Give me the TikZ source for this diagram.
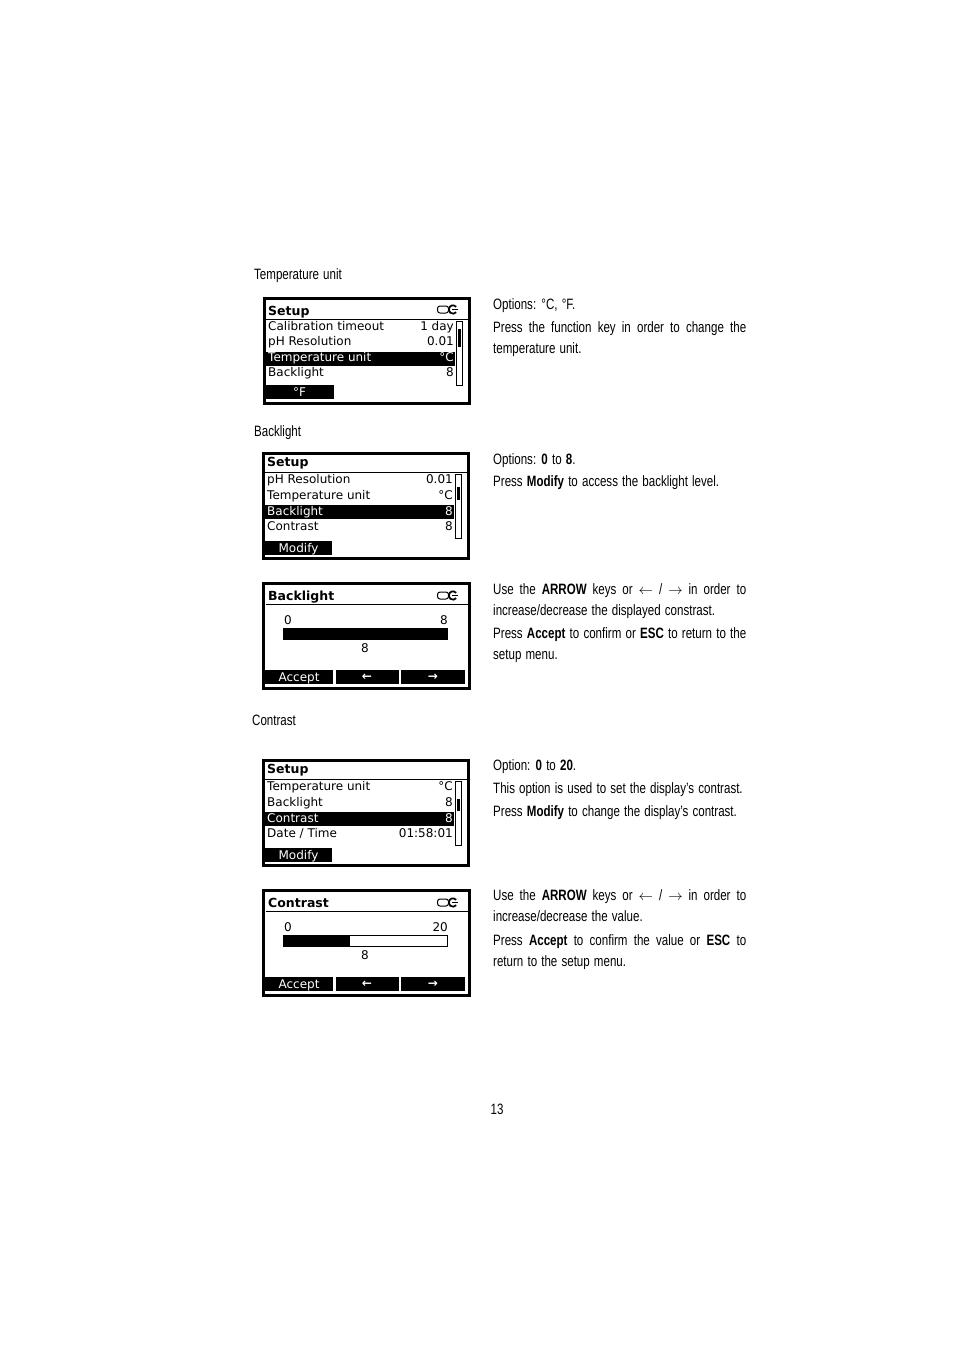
\documentclass[tikz,border=0pt]{standalone}
\usepackage{fontspec}
\setmainfont{Liberation Sans}[FakeStretch=0.77, WordSpace=1.3]
\newfontfamily\lcdfont{DejaVu Sans}
\hyphenpenalty=10000
\exhyphenpenalty=10000

\tikzset{
  every node/.style={inner sep=0pt},
  heading/.style={anchor=base west, font=\fontsize{15}{21}\selectfont},
  para/.style={anchor=base west, text width=253pt, align=justify, font=\fontsize{15}{21}\selectfont},
  lcdframe/.style={line width=2.8pt},
  lcdline/.style={line width=1pt},
  lcd/.style={font=\lcdfont\fontsize{12}{14}\selectfont},
  lcdtitle/.style={anchor=base west, font=\lcdfont\bfseries\fontsize{12.5}{14}\selectfont},
  lcdrow/.style={lcd, anchor=base west},
  lcdval/.style={lcd, anchor=base east},
  lcdkey/.style={lcd, anchor=base, text=white},
  lcdarrow/.style={lcdkey, font=\lcdfont\bfseries\fontsize{12}{14}\selectfont},
  wrench/.pic={
    \draw[line width=1pt, rounded corners=2.5pt] (-15.5,-3.5) rectangle (-4.5,3.5);
    \draw[line width=1.7pt] (40:4.2) arc (40:320:4.2);
    \draw[line width=1.7pt] (-1,0) -- (5,0);
  }
}

\begin{document}
\begin{tikzpicture}[x=1pt,y=-1pt]
\useasboundingbox (0,0) rectangle (954,1351);

% headings
\node[heading] (hTemp) at (254,279) {Temperature unit};
\node[heading] (hBack) at (254,436) {Backlight};
\node[heading] (hCont) at (252,725.5) {Contrast};

% screen: temperature unit
\draw[lcdframe] (264.4,298.4) rectangle (469.6,403.6);
\node[lcdtitle] (s1t) at (268,315) {Setup};
\pic at (453,309.5) {wrench};
\draw[lcdline] (266,319) -- (468,319);
\fill (265,351.5) rectangle (455,365.5);
\node[lcdrow] (s1r1) at (268,330.5) {Calibration timeout};
\node[lcdval] (s1v1) at (454,330.5) {1 day};
\node[lcdrow] (s1r2) at (268,345.8) {pH Resolution};
\node[lcdval] (s1v2) at (454,345.8) {0.01};
\node[lcdrow, text=white] (s1r3) at (268,361) {Temperature unit};
\node[lcdval, text=white] (s1v3) at (454,361) {°C};
\node[lcdrow] (s1r4) at (268,376.3) {Backlight};
\node[lcdval] (s1v4) at (454,376.3) {8};
\draw[line width=0.8pt] (456.5,321) rectangle (462.5,385);
\fill (458,329) rectangle (461,347);
\fill (265,385) rectangle (334,399);
\node[lcdkey] (s1k) at (299.5,396.5) {°F};

% screen: backlight setup
\draw[lcdframe] (263.4,453.4) rectangle (468.6,558.6);
\node[lcdtitle] (s2t) at (267,466.7) {Setup};
\draw[lcdline] (265,472.5) -- (467,472.5);
\fill (264.5,505) rectangle (454,519);
\node[lcdrow] (s2r1) at (267,483.3) {pH Resolution};
\node[lcdval] (s2v1) at (453,483.3) {0.01};
\node[lcdrow] (s2r2) at (267,499) {Temperature unit};
\node[lcdval] (s2v2) at (453,499) {°C};
\node[lcdrow, text=white] (s2r3) at (267,515) {Backlight};
\node[lcdval, text=white] (s2v3) at (453,515) {8};
\node[lcdrow] (s2r4) at (267,530) {Contrast};
\node[lcdval] (s2v4) at (453,530) {8};
\draw[line width=0.8pt] (455.5,474) rectangle (461.5,538);
\fill (457,487) rectangle (460,500);
\fill (265,541) rectangle (332,555);
\node[lcdkey] (s2k) at (298.5,552) {Modify};

% screen: backlight level
\draw[lcdframe] (263.4,583.4) rectangle (469.6,688.6);
\node[lcdtitle] (s3t) at (268,600) {Backlight};
\pic at (453,595.5) {wrench};
\draw[lcdline] (266,604.3) -- (468,604.3);
\node[lcdrow] (s3lo) at (284,624.3) {0};
\node[lcdval] (s3hi) at (448,624.3) {8};
\fill (283,628.3) rectangle (448,640);
\node[lcd, anchor=base] (s3v) at (365,652.3) {8};
\fill (265,669.5) rectangle (333,683.5);
\fill (335.5,669.5) rectangle (398.5,683.5);
\fill (401,669.5) rectangle (465,683.5);
\node[lcdkey] (s3k1) at (299,681) {Accept};
\node[lcdarrow] (s3k2) at (367,680) {←};
\node[lcdarrow] (s3k3) at (433,680) {→};

% screen: contrast setup
\draw[lcdframe] (263.4,760.4) rectangle (468.6,865.6);
\node[lcdtitle] (s4t) at (267,773.7) {Setup};
\draw[lcdline] (265,779.5) -- (467,779.5);
\fill (264.5,812) rectangle (454,826);
\node[lcdrow] (s4r1) at (267,790.3) {Temperature unit};
\node[lcdval] (s4v1) at (453,790.3) {°C};
\node[lcdrow] (s4r2) at (267,806) {Backlight};
\node[lcdval] (s4v2) at (453,806) {8};
\node[lcdrow, text=white] (s4r3) at (267,822) {Contrast};
\node[lcdval, text=white] (s4v3) at (453,822) {8};
\node[lcdrow] (s4r4) at (267,837) {Date / Time};
\node[lcdval] (s4v4) at (453,837) {01:58:01};
\draw[line width=0.8pt] (455.5,781) rectangle (461.5,845);
\fill (457,799) rectangle (460,811);
\fill (265,848) rectangle (332,862);
\node[lcdkey] (s4k) at (298.5,859) {Modify};

% screen: contrast level
\draw[lcdframe] (263.4,890.4) rectangle (469.6,995.6);
\node[lcdtitle] (s5t) at (268,907) {Contrast};
\pic at (453,902.5) {wrench};
\draw[lcdline] (266,911.3) -- (468,911.3);
\node[lcdrow] (s5lo) at (284,931.3) {0};
\node[lcdval] (s5hi) at (448,931.3) {20};
\draw[line width=0.8pt] (283.4,935.7) rectangle (447.6,946.6);
\fill (283,935.3) rectangle (350,947);
\node[lcd, anchor=base] (s5v) at (365,959.3) {8};
\fill (265,976.5) rectangle (333,990.5);
\fill (335.5,976.5) rectangle (398.5,990.5);
\fill (401,976.5) rectangle (465,990.5);
\node[lcdkey] (s5k1) at (299,988) {Accept};
\node[lcdarrow] (s5k2) at (367,987) {←};
\node[lcdarrow] (s5k3) at (433,987) {→};

% texts
\node[para] (p1) at (493,309.5) {Options: °C, °F.};
\node[para] (p2) at (493,332.5) {Press the function key in order to change the temperature unit.};
\node[para] (p3) at (493,464.5) {Options: \textbf{0} to \textbf{8}.};
\node[para] (p4) at (493,486.5) {Press \textbf{Modify} to access the backlight level.};
\node[para] (p5) at (493,594.5) {Use the \textbf{ARROW} keys or $\leftarrow$ / $\rightarrow$ in order to increase/decrease the displayed constrast.};
\node[para] (p6) at (493,638.5) {Press \textbf{Accept} to confirm or \textbf{ESC} to return to the setup menu.};
\node[para] (p7) at (493,770) {Option: \textbf{0} to \textbf{20}.};
\node[para] (p8) at (493,793.5) {This option is used to set the display’s contrast.};
\node[para] (p9) at (493,816.5) {Press \textbf{Modify} to change the display’s contrast.};
\node[para] (p10) at (493,900.5) {Use the \textbf{ARROW} keys or $\leftarrow$ / $\rightarrow$ in order to increase/decrease the value.};
\node[para] (p11) at (493,945.5) {Press \textbf{Accept} to confirm the value or \textbf{ESC} to\linebreak return to the setup menu.};

% page number
\node[anchor=base, font=\fontsize{15}{21}\selectfont] (page) at (497,1114.5) {13};
\end{tikzpicture}
\end{document}
